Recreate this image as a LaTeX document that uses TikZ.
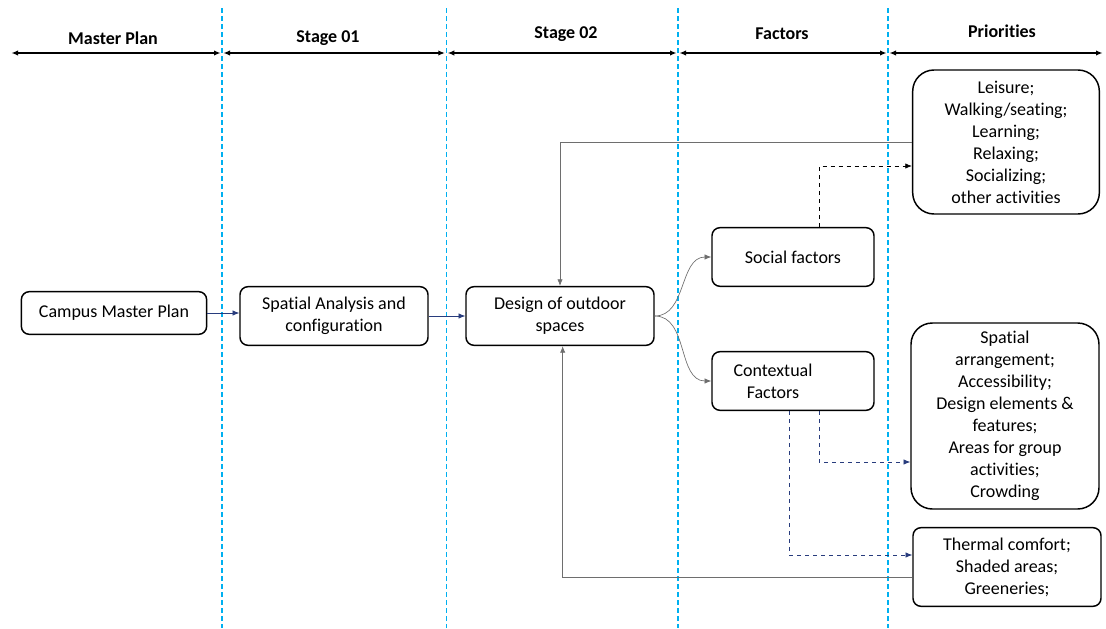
\documentclass[tikz,border=0pt]{standalone}
\usepackage{fontspec}
\setmainfont{Carlito}[Ligatures=NoCommon]
\usepackage{tikz}
\usetikzlibrary{arrows.meta}
\definecolor{sky}{RGB}{0,176,240}
\definecolor{navy}{RGB}{40,60,125}
\definecolor{wire}{RGB}{110,110,110}
\tikzset{
  box/.style={draw, line width=1.1pt, rounded corners=6pt, align=center, inner sep=2pt,
    font=\fontsize{13.5}{16.5}\selectfont},
  bigbox/.style={box, rounded corners=16pt},
  head/.style={font=\fontsize{13.5}{16}\selectfont\bfseries},
  span/.style={{Latex[length=5pt,width=4pt]}-{Latex[length=5pt,width=4pt]}, line width=1.2pt},
  link/.style={-{Latex[length=5pt,width=4pt]}, line width=0.5pt},
  guide/.style={sky, line width=0.9pt, dash pattern=on 4pt off 2pt},
}

\begin{document}
\begin{tikzpicture}[x=0.75pt,y=-0.75pt]
\useasboundingbox (0,0) rectangle (1106,628);
% stage separators
\foreach \x in {222,446.3,678,888}{
  \draw[guide] (\x,8) -- (\x,628);
}
% header
\foreach \n/\x in {0/10,1/222,2/446.3,3/678,4/888,5/1104}{
  \coordinate (h\n) at (\x,53);
}
\foreach \a/\b in {0/1,1/2,2/3,3/4,4/5}{
  \draw[span] ([xshift=1pt]h\a) -- ([xshift=-1pt]h\b);
}
\node[head] (tmp) at (113,38) {Master Plan};
\node[head] (ts1) at (328,38) {Stage 01};
\node[head] (ts2) at (566,34) {Stage 02};
\node[head] (tfac) at (782,34) {Factors};
\node[head] (tpri) at (1002,31) {Priorities};

% boxes
\node[box, minimum width=139pt, minimum height=32pt] (cmp) at (114,313) {Campus Master Plan};
\node[box, minimum width=141pt, minimum height=44pt] (sa) at (334,316) {Spatial Analysis and\\configuration};
\node[box, minimum width=141pt, minimum height=44pt] (dsgn) at (560,316) {Design of outdoor\\spaces};
\node[box, minimum width=121.5pt, minimum height=44pt] (soc) at (793,257) {Social factors};
\node[box, minimum width=121.5pt, minimum height=44pt] (ctx) at (793,381) {Contextual\hspace*{30pt}\\Factors\hspace*{30pt}};
\node[bigbox, minimum width=140pt, minimum height=108pt] (leis) at (1006,142)
  {Leisure;\\Walking/seating;\\Learning;\\Relaxing;\\Socializing;\\other activities};
\node[bigbox, minimum width=141pt, minimum height=139.5pt] (spat) at (1005,416)
  {Spatial\\arrangement;\\Accessibility;\\Design elements \&\\features;\\Areas for group\\activities;\\Crowding};
\node[box, minimum width=141pt, minimum height=59pt] (therm) at (1007,567)
  {Thermal comfort;\\Shaded areas;\\Greeneries;};

% connectors
\draw[link, navy] (cmp) -- (sa.west |- cmp);
\draw[link, navy] (sa) -- (dsgn);
\draw[link, wire] (dsgn.east) to[out=0,in=180] (soc.west);
\draw[link, wire] (dsgn.east) to[out=0,in=180] (ctx.west);
\draw[link, wire] (leis.west) -| (dsgn.north);
\draw[link, wire] ([yshift=-8pt]therm.west) -| ([xshift=2pt]dsgn.south);
\draw[link, dashed] ([xshift=20pt]soc.north) |- ([yshift=-18pt]leis.west);
\draw[link, dashed, navy] ([xshift=19.5pt]ctx.south) |- ([yshift=-34.5pt]spat.west);
\draw[link, dashed, navy] ([xshift=-3pt]ctx.south) |- ([yshift=9pt]therm.west);
\end{tikzpicture}
\end{document}
